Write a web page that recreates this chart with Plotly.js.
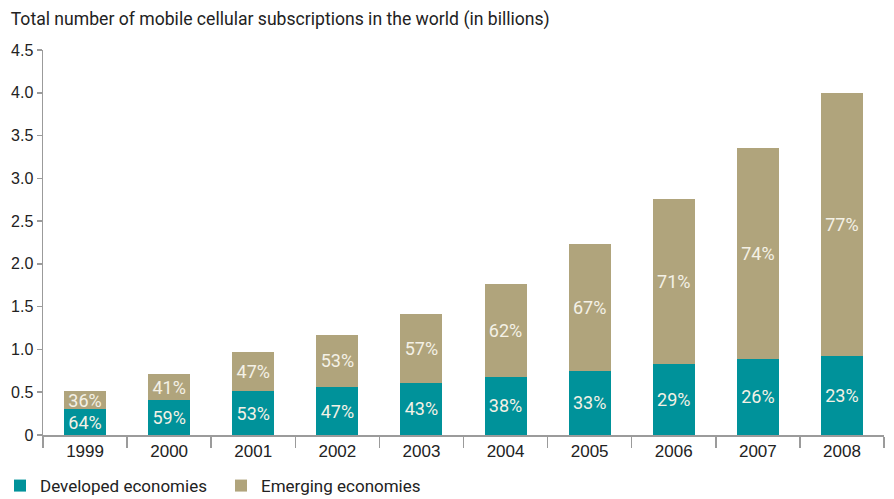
<!DOCTYPE html>
<html>
<head>
<meta charset="utf-8">
<script src="https://cdn.plot.ly/plotly-3.0.1.min.js"></script>
<style>html,body{margin:0;padding:0;background:#fff;}#chart{width:894px;height:499px;}</style>
</head>
<body>
<div id="chart"></div>
<script>
var years = ['1999','2000','2001','2002','2003','2004','2005','2006','2007','2008'];
var developed = [0.30, 0.41, 0.51, 0.56, 0.61, 0.68, 0.75, 0.83, 0.89, 0.92];
var emerging  = [0.21, 0.30, 0.46, 0.61, 0.81, 1.09, 1.48, 1.93, 2.47, 3.08];
var developedPct = ['64%','59%','53%','47%','43%','38%','33%','29%','26%','23%'];
var emergingPct  = ['36%','41%','47%','53%','57%','62%','67%','71%','74%','77%'];
var yTickVals = [0, 0.5, 1, 1.5, 2, 2.5, 3, 3.5, 4, 4.5];
var yTickText = ['0','0.5','1.0','1.5','2.0','2.5','3.0','3.5','4.0','4.5'];

var labelFont = {family: 'Roboto, "Noto Sans", sans-serif', size: 18, color: '#f4f1e6'};

var traces = [
  {
    type: 'bar', name: 'Developed economies', x: years, y: developed,
    text: developedPct, textposition: 'inside', insidetextanchor: 'middle',
    constraintext: 'none', textfont: labelFont, hoverinfo: 'skip',
    marker: {color: '#00929a', line: {width: 0}}
  },
  {
    type: 'bar', name: 'Emerging economies', x: years, y: emerging,
    text: emergingPct, textposition: 'inside', insidetextanchor: 'middle',
    constraintext: 'none', textfont: labelFont, hoverinfo: 'skip',
    marker: {color: '#b0a47c', line: {width: 0}}
  }
];

var axisColor = '#9b9b9b';
var layout = {
  width: 894, height: 499,
  margin: {l: 43, r: 10, t: 50, b: 64},
  paper_bgcolor: '#ffffff', plot_bgcolor: '#ffffff',
  barmode: 'stack', bargap: 0.5,
  font: {family: 'Roboto, sans-serif', color: '#222222'},
  title: {
    text: 'Total number of mobile cellular subscriptions in the world (in billions)',
    font: {family: 'Roboto, "Noto Sans", sans-serif', size: 17.6, color: '#222222'},
    xref: 'container', x: 0.012, xanchor: 'left',
    yref: 'container', y: 0.962, yanchor: 'middle'
  },
  xaxis: {
    type: 'category', showgrid: false, zeroline: false,
    showline: true, linecolor: axisColor, linewidth: 1.5,
    ticks: 'outside', tickson: 'boundaries', ticklen: 11, tickwidth: 1.5, tickcolor: axisColor,
    tickfont: {family: '"Liberation Sans", Arial, sans-serif', size: 17, color: '#222222'},
    fixedrange: true
  },
  yaxis: {
    range: [0, 4.5], showgrid: false, zeroline: false,
    showline: true, linecolor: axisColor, linewidth: 1.5,
    ticks: 'outside', ticklen: 5, tickwidth: 1.5, tickcolor: axisColor,
    tickvals: yTickVals, ticktext: yTickText,
    tickfont: {family: '"Liberation Sans", Arial, sans-serif', size: 16, color: '#222222'},
    fixedrange: true
  },
  showlegend: true,
  legend: {
    orientation: 'h', xref: 'paper', x: -0.0559, xanchor: 'left',
    yref: 'container', y: 0.026, yanchor: 'middle',
    font: {family: 'Roboto, "Noto Sans", sans-serif', size: 17, color: '#222222'},
    traceorder: 'normal', itemwidth: 30,
    entrywidth: 176, entrywidthmode: 'pixels',
    bgcolor: 'rgba(0,0,0,0)'
  }
};

Plotly.newPlot('chart', traces, layout, {displayModeBar: false, staticPlot: true});
</script>
</body>
</html>
